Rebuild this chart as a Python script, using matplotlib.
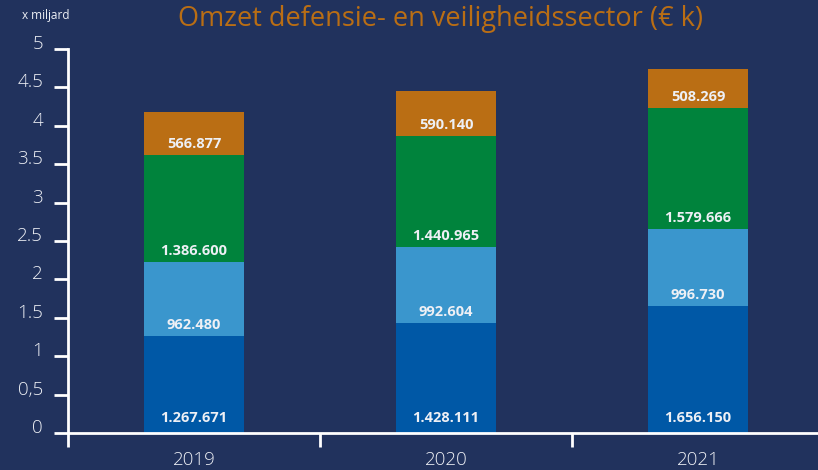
import matplotlib
matplotlib.use("Agg")
import matplotlib.pyplot as plt
from matplotlib import transforms

years = ["2019", "2020", "2021"]
seg1 = [1267671, 1428111, 1656150]
seg2 = [962480, 992604, 996730]
seg3 = [1386600, 1440965, 1579666]
seg4 = [566877, 590140, 508269]
series = [seg1, seg2, seg3, seg4]
colors = ["#0058a6", "#3a96cd", "#00833c", "#ba6e14"]
ytick_vals = [0, 0.5, 1, 1.5, 2, 2.5, 3, 3.5, 4, 4.5, 5]
ytick_labels = ["0", "0,5", "1", "1.5", "2", "2.5", "3", "3.5", "4", "4.5", "5"]
title = "Omzet defensie- en veiligheidssector (€ k)"

def fmt(v):
    return f"{v:,}".replace(",", ".")

bg = "#21325d"
fg = "#eef0f5"
plt.rcParams['font.family'] = ['Open Sans', 'DejaVu Sans']

fig = plt.figure(figsize=(8.18, 4.70), dpi=100, facecolor=bg)
W, H = 818, 470
ax = fig.add_axes([68 / W, (H - 433) / H, 1 - 68 / W, (433 - 49) / H])
ax.set_facecolor(bg)

x = list(range(len(years)))
bottoms = [0.0] * len(years)
for vals, col in zip(series, colors):
    vb = [v / 1e6 for v in vals]
    ax.bar(x, vb, width=0.4, bottom=bottoms, color=col, zorder=2)
    for i, v in enumerate(vals):
        off = 15 if vals is seg1 else 11
        tr = transforms.offset_copy(ax.transData, fig=fig, x=0, y=off * 72 / 100, units='points')
        ax.text(x[i], bottoms[i], fmt(v), transform=tr, ha='center', va='center',
                color=fg, fontsize=10.5, fontweight='bold', zorder=3)
    bottoms = [b + v for b, v in zip(bottoms, vb)]

ax.set_ylim(0, 5)
ax.set_xlim(-0.5, 2.5 - 6 / 252)
ax.set_yticks(ytick_vals)
ax.set_yticklabels(ytick_labels)
ax.set_xticks(x)
ax.set_xticklabels(years)
ax.set_xticks([-0.5, 0.5, 1.5], minor=True)
ax.tick_params(axis='x', which='major', length=0, pad=13, labelsize=13.5, colors=fg)
ax.tick_params(axis='x', which='minor', length=10, width=2, color='white', direction='out')
ax.tick_params(axis='y', length=10, width=2, color='white', pad=8, labelsize=13.5, labelcolor=fg)
shift = transforms.ScaledTranslation(0, 7 / 100, fig.dpi_scale_trans)
for lab in ax.get_yticklabels():
    lab.set_transform(lab.get_transform() + shift)
for lab in ax.get_xticklabels() + ax.get_yticklabels():
    lab.set_fontweight('light')
for s in ['top', 'right']:
    ax.spines[s].set_visible(False)
for s in ['left', 'bottom']:
    ax.spines[s].set_color('white')
    ax.spines[s].set_linewidth(2)

fig.text(440 / W, 1 - 19 / H, title, ha='center', va='center', color="#ba6e14", fontsize=19.5)
fig.text(22 / W, 1 - 15 / H, "x miljard", ha='left', va='center', color=fg, fontsize=8.5)

fig.savefig("out.png", dpi=100, facecolor=bg)
